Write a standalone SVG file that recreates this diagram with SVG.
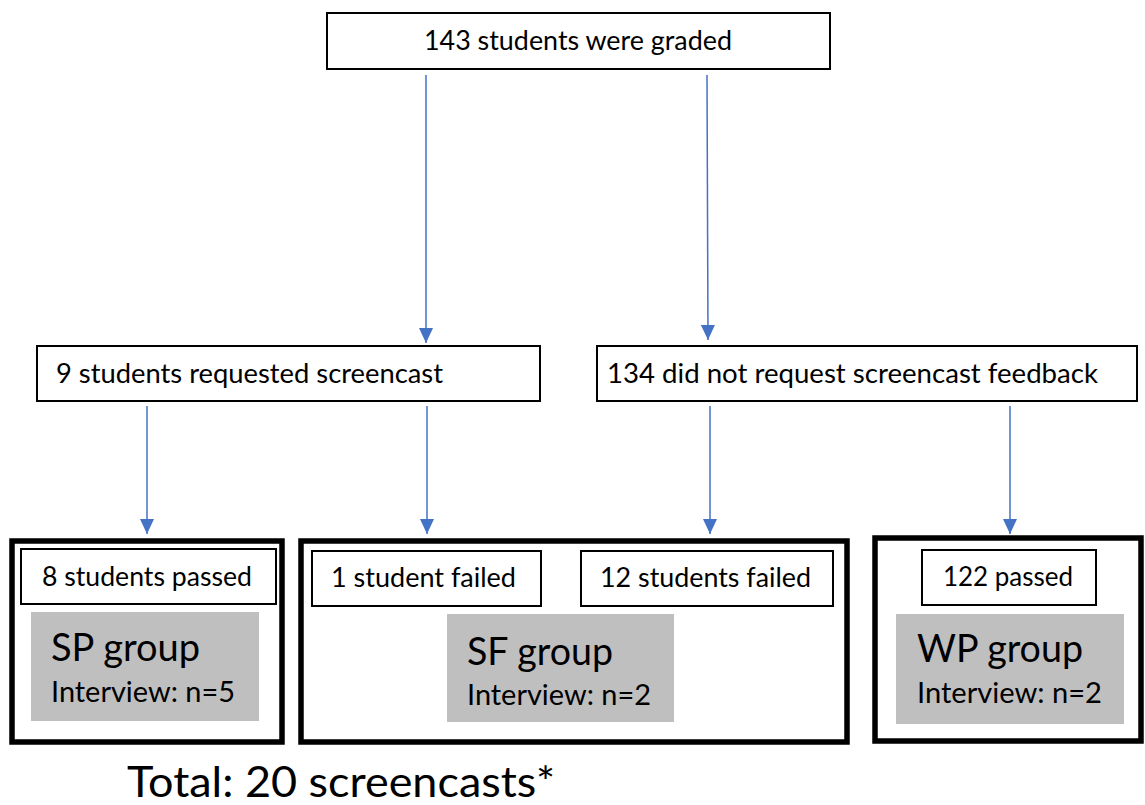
<svg xmlns="http://www.w3.org/2000/svg" width="1145" height="805" viewBox="0 0 1145 805">
<style>
.box{fill:#fff;stroke:#000;stroke-width:2}
.outer{fill:#fff;stroke:#000;stroke-width:5.5}
.gray{fill:#bfbfbf;stroke:none}
.t{font-family:Lato,"Open Sans",sans-serif;font-size:27px;fill:#000}
.g{font-family:Lato,"Open Sans",sans-serif;font-size:39px;fill:#000}
.i{font-family:Lato,"Open Sans",sans-serif;font-size:28px;fill:#000}
.tot{font-family:Lato,"Open Sans",sans-serif;font-size:43px;fill:#000}
.c{stroke:#4472c4;stroke-width:1.5;fill:none;marker-end:url(#ah)}
</style>
<defs>
<marker id="ah" markerUnits="userSpaceOnUse" markerWidth="15" markerHeight="14" viewBox="0 0 15 14" refX="15" refY="7" orient="auto">
<path d="M0,0 L15,7 L0,14 Z" fill="#4472c4"/>
</marker>
</defs>
<rect width="1145" height="805" fill="#fff"/>
<g id="n-top">
<rect class="box" x="327" y="13" width="503" height="56"/>
<text class="t" x="424" y="50" textLength="308" lengthAdjust="spacingAndGlyphs">143 students were graded</text>
</g>
<g id="n-req">
<rect class="box" x="37" y="346" width="503" height="55"/>
<text class="t" x="56" y="383" textLength="387" lengthAdjust="spacingAndGlyphs">9 students requested screencast</text>
</g>
<g id="n-noreq">
<rect class="box" x="597" y="346" width="540" height="55"/>
<text class="t" x="607" y="383" textLength="491" lengthAdjust="spacingAndGlyphs">134 did not request screencast feedback</text>
</g>
<g id="n-sp">
<rect class="outer" x="12" y="541" width="270" height="201"/>
<rect class="box" x="21" y="549" width="255" height="55"/>
<text class="t" x="42" y="586" textLength="210" lengthAdjust="spacingAndGlyphs">8 students passed</text>
<rect class="gray" x="31" y="612" width="228" height="109"/>
<text class="g" x="51" y="661" textLength="149" lengthAdjust="spacingAndGlyphs">SP group</text>
<text class="i" x="51" y="702" textLength="184" lengthAdjust="spacingAndGlyphs">Interview: n=5</text>
</g>
<g id="n-sf">
<rect class="outer" x="301" y="541" width="546" height="201"/>
<rect class="box" x="312" y="551" width="229" height="55"/>
<text class="t" x="331" y="587" textLength="185" lengthAdjust="spacingAndGlyphs">1 student failed</text>
<rect class="box" x="581" y="551" width="252" height="55"/>
<text class="t" x="600" y="587" textLength="211" lengthAdjust="spacingAndGlyphs">12 students failed</text>
<rect class="gray" x="447" y="614" width="227" height="108"/>
<text class="g" x="467" y="665" textLength="146" lengthAdjust="spacingAndGlyphs">SF group</text>
<text class="i" x="467" y="705" textLength="184" lengthAdjust="spacingAndGlyphs">Interview: n=2</text>
</g>
<g id="n-wp">
<rect class="outer" x="875" y="538" width="266" height="203"/>
<rect class="box" x="922" y="550" width="174" height="55"/>
<text class="t" x="943" y="586" textLength="130" lengthAdjust="spacingAndGlyphs">122 passed</text>
<rect class="gray" x="896" y="614" width="228" height="110"/>
<text class="g" x="917" y="662" textLength="166" lengthAdjust="spacingAndGlyphs">WP group</text>
<text class="i" x="917" y="703" textLength="185" lengthAdjust="spacingAndGlyphs">Interview: n=2</text>
</g>
<g id="n-total">
<text class="tot" x="127" y="797" textLength="428" lengthAdjust="spacingAndGlyphs">Total: 20 screencasts*</text>
</g>
<g id="connectors">
<line class="c" x1="426" y1="75" x2="426" y2="343"/>
<line class="c" x1="707" y1="75" x2="708" y2="340"/>
<line class="c" x1="147" y1="406" x2="147" y2="534"/>
<line class="c" x1="427" y1="406" x2="427" y2="534"/>
<line class="c" x1="710" y1="406" x2="710" y2="534"/>
<line class="c" x1="1010" y1="406" x2="1010" y2="534"/>
</g>
</svg>
